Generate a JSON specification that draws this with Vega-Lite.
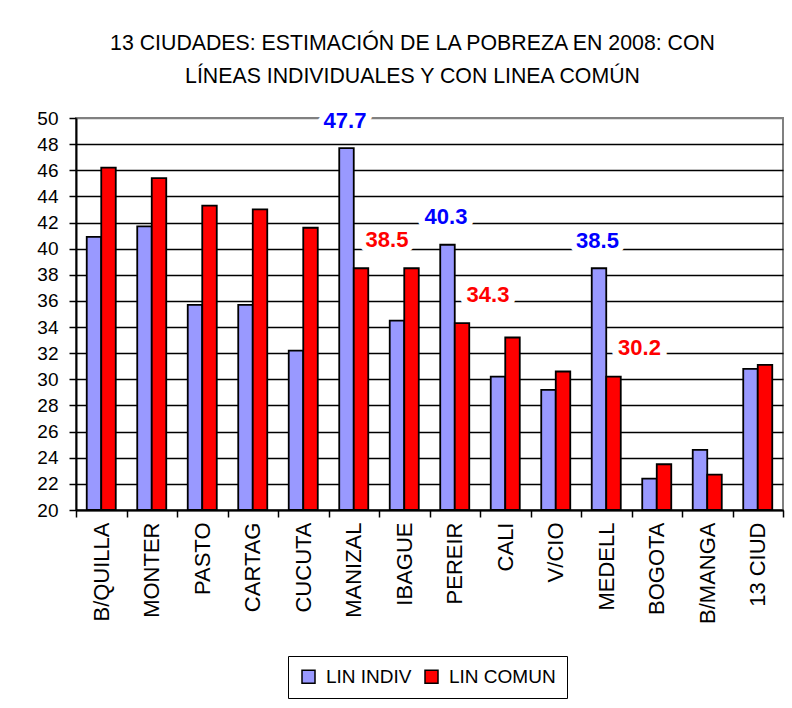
{
  "$schema": "https://vega.github.io/schema/vega-lite/v6.json",
  "width": 707,
  "height": 392,
  "autosize": {"type": "none"},
  "padding": {"left": 76, "top": 118, "right": 9, "bottom": 198},
  "background": "white",
  "config": {
    "font": "Liberation Sans",
    "view": {"stroke": "#808080", "strokeWidth": 2}
  },
  "title": {
    "text": ["13 CIUDADES: ESTIMACIÓN DE LA POBREZA EN 2008: CON", "LÍNEAS INDIVIDUALES Y CON LINEA COMÚN"],
    "font": "Liberation Sans",
    "fontSize": 21.3,
    "fontWeight": "normal",
    "lineHeight": 33,
    "anchor": "middle",
    "dx": -17,
    "offset": 22,
    "color": "black"
  },
  "data": {
    "values": [
      {"ciudad": "B/QUILLA", "serie": "LIN INDIV", "valor": 40.9},
      {"ciudad": "B/QUILLA", "serie": "LIN COMUN", "valor": 46.2},
      {"ciudad": "MONTER", "serie": "LIN INDIV", "valor": 41.7},
      {"ciudad": "MONTER", "serie": "LIN COMUN", "valor": 45.4},
      {"ciudad": "PASTO", "serie": "LIN INDIV", "valor": 35.7},
      {"ciudad": "PASTO", "serie": "LIN COMUN", "valor": 43.3},
      {"ciudad": "CARTAG", "serie": "LIN INDIV", "valor": 35.7},
      {"ciudad": "CARTAG", "serie": "LIN COMUN", "valor": 43.0},
      {"ciudad": "CUCUTA", "serie": "LIN INDIV", "valor": 32.2},
      {"ciudad": "CUCUTA", "serie": "LIN COMUN", "valor": 41.6},
      {"ciudad": "MANIZAL", "serie": "LIN INDIV", "valor": 47.7},
      {"ciudad": "MANIZAL", "serie": "LIN COMUN", "valor": 38.5},
      {"ciudad": "IBAGUE", "serie": "LIN INDIV", "valor": 34.5},
      {"ciudad": "IBAGUE", "serie": "LIN COMUN", "valor": 38.5},
      {"ciudad": "PEREIR", "serie": "LIN INDIV", "valor": 40.3},
      {"ciudad": "PEREIR", "serie": "LIN COMUN", "valor": 34.3},
      {"ciudad": "CALI", "serie": "LIN INDIV", "valor": 30.2},
      {"ciudad": "CALI", "serie": "LIN COMUN", "valor": 33.2},
      {"ciudad": "V/CIO", "serie": "LIN INDIV", "valor": 29.2},
      {"ciudad": "V/CIO", "serie": "LIN COMUN", "valor": 30.6},
      {"ciudad": "MEDELL", "serie": "LIN INDIV", "valor": 38.5},
      {"ciudad": "MEDELL", "serie": "LIN COMUN", "valor": 30.2},
      {"ciudad": "BOGOTA", "serie": "LIN INDIV", "valor": 22.4},
      {"ciudad": "BOGOTA", "serie": "LIN COMUN", "valor": 23.5},
      {"ciudad": "B/MANGA", "serie": "LIN INDIV", "valor": 24.6},
      {"ciudad": "B/MANGA", "serie": "LIN COMUN", "valor": 22.7},
      {"ciudad": "13 CIUD", "serie": "LIN INDIV", "valor": 30.8},
      {"ciudad": "13 CIUD", "serie": "LIN COMUN", "valor": 31.1}
    ]
  },
  "encoding": {
    "x": {
      "field": "ciudad",
      "type": "nominal",
      "sort": null,
      "scale": {"paddingInner": 0, "paddingOuter": 0},
      "axis": {
        "title": null,
        "labelAngle": -90,
        "labelAlign": "right",
        "labelBaseline": "middle",
        "labelFontSize": 22,
        "labelColor": "black",
        "labelPadding": 5,
        "tickBand": "extent",
        "tickExtra": true,
        "tickSize": 7,
        "tickColor": "black",
        "tickWidth": 1.5,
        "domainColor": "black",
        "domainWidth": 2,
        "grid": false
      }
    },
    "xOffset": {
      "field": "serie",
      "type": "nominal",
      "sort": ["LIN INDIV", "LIN COMUN"],
      "scale": {"paddingInner": 0, "paddingOuter": 0.74}
    },
    "y": {
      "field": "valor",
      "type": "quantitative",
      "scale": {"domain": [20, 50], "nice": false, "zero": false},
      "axis": {
        "title": null,
        "values": [20, 22, 24, 26, 28, 30, 32, 34, 36, 38, 40, 42, 44, 46, 48, 50],
        "labelFontSize": 19,
        "labelColor": "black",
        "labelPadding": 11,
        "tickSize": 7,
        "tickColor": "black",
        "tickWidth": 1.5,
        "domainColor": "black",
        "domainWidth": 2,
        "grid": true,
        "gridColor": {"condition": {"test": "datum.value == 50", "value": "#808080"}, "value": "black"},
        "gridWidth": 1.3,
        "gridOpacity": 1
      }
    }
  },
  "layer": [
    {
      "mark": {"type": "bar", "stroke": "black", "strokeWidth": 1.8},
      "encoding": {
        "y2": {"datum": 20},
        "color": {
          "field": "serie",
          "type": "nominal",
          "sort": ["LIN INDIV", "LIN COMUN"],
          "scale": {"domain": ["LIN INDIV", "LIN COMUN"], "range": ["#9999FF", "#FF0000"]},
          "legend": {
            "orient": "none",
            "legendX": 212,
            "legendY": 538,
            "direction": "horizontal",
            "title": null,
            "labelFontSize": 19,
            "labelColor": "black",
            "symbolType": "square",
            "symbolSize": 169,
            "symbolStrokeColor": "black",
            "symbolStrokeWidth": 1.5,
            "symbolOpacity": 1,
            "strokeColor": "black",
            "padding": 11,
            "columnPadding": 10,
            "labelOffset": 8
          }
        }
      }
    },
    {
      "transform": [
        {"filter": {"field": "ciudad", "oneOf": ["MANIZAL", "PEREIR", "MEDELL"]}},
        {"filter": {"field": "serie", "equal": "LIN INDIV"}}
      ],
      "mark": {"type": "text", "fontSize": 22, "fontWeight": "bold", "align": "center", "baseline": "middle", "dx": -1.5, "dy": -27.5, "stroke": "white", "strokeWidth": 13, "strokeJoin": "round", "fill": "white"},
      "encoding": {"text": {"field": "valor", "type": "quantitative", "format": ".1f"}}
    },
    {
      "transform": [
        {"filter": {"field": "ciudad", "oneOf": ["MANIZAL", "PEREIR", "MEDELL"]}},
        {"filter": {"field": "serie", "equal": "LIN COMUN"}}
      ],
      "mark": {"type": "text", "fontSize": 22, "fontWeight": "bold", "align": "center", "baseline": "middle", "dx": 26, "dy": -28.5, "stroke": "white", "strokeWidth": 13, "strokeJoin": "round", "fill": "white"},
      "encoding": {"text": {"field": "valor", "type": "quantitative", "format": ".1f"}}
    },
    {
      "transform": [
        {"filter": {"field": "ciudad", "oneOf": ["MANIZAL", "PEREIR", "MEDELL"]}},
        {"filter": {"field": "serie", "equal": "LIN INDIV"}}
      ],
      "mark": {"type": "text", "fontSize": 22, "fontWeight": "bold", "align": "center", "baseline": "middle", "dx": -1.5, "dy": -27.5, "fill": "#0000FF"},
      "encoding": {"text": {"field": "valor", "type": "quantitative", "format": ".1f"}}
    },
    {
      "transform": [
        {"filter": {"field": "ciudad", "oneOf": ["MANIZAL", "PEREIR", "MEDELL"]}},
        {"filter": {"field": "serie", "equal": "LIN COMUN"}}
      ],
      "mark": {"type": "text", "fontSize": 22, "fontWeight": "bold", "align": "center", "baseline": "middle", "dx": 26, "dy": -28.5, "fill": "#FF0000"},
      "encoding": {"text": {"field": "valor", "type": "quantitative", "format": ".1f"}}
    }
  ]
}
